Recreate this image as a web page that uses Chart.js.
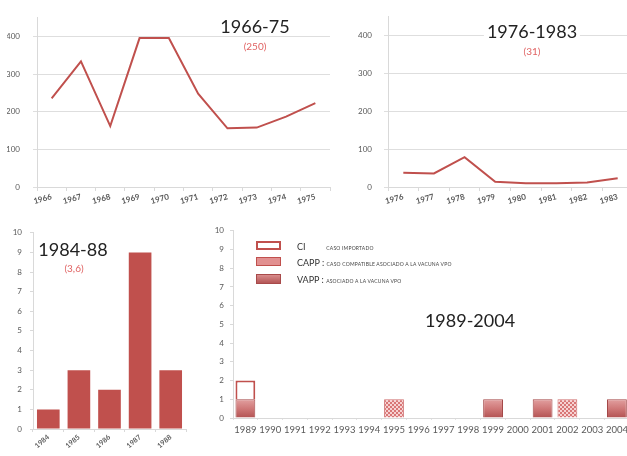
<!DOCTYPE html>
<html><head><meta charset="utf-8">
<script src="https://cdn.jsdelivr.net/npm/chart.js@4/dist/chart.umd.min.js"></script>
<style>
html,body{margin:0;padding:0;background:#fff;width:627px;height:456px;overflow:hidden;position:relative;font-family:Lato,"Open Sans",sans-serif;}
canvas{position:absolute;}
.t{position:absolute;color:#222;font-size:18px;background:#fff;padding:0 3px;line-height:18px;transform:translateX(-50%);white-space:nowrap;}
.s{position:absolute;color:#e06363;font-size:10px;line-height:10px;transform:translateX(-50%);white-space:nowrap;}
.lb{position:absolute;width:25px;height:9px;box-sizing:border-box;}
.lt{position:absolute;font-size:9px;line-height:9px;color:#333;white-space:nowrap;}
.lt small{font-size:5px;letter-spacing:0.2px;color:#444;}
</style></head><body>
<canvas id="c1" width="335" height="220" style="left:0;top:0"></canvas>
<canvas id="c2" width="300" height="220" style="left:335px;top:0"></canvas>
<canvas id="c3" width="195" height="236" style="left:0;top:220px"></canvas>
<canvas id="c4" width="432" height="236" style="left:200px;top:220px"></canvas>

<div class="t" style="left:255px;top:17px">1966-75</div>
<div class="s" style="left:255px;top:41px">(250)</div>
<div class="t" style="left:532px;top:22px">1976-1983</div>
<div class="s" style="left:532px;top:46px">(31)</div>
<div class="t" style="left:73px;top:240px;background:transparent">1984-88</div>
<div class="s" style="left:74px;top:263px">(3,6)</div>
<div class="t" style="left:470px;top:311px;background:transparent">1989-2004</div>

<div class="lb" style="left:256px;top:241px;border:2px solid #c0504d;background:#fff"></div>
<div class="lb" style="left:256px;top:257px;border:1px solid #c0504d;background-color:#f3c4c4;background-image:radial-gradient(#d87474 0.6px,transparent 0.9px);background-size:2px 2px"></div>
<div class="lb" style="left:256px;top:274px;height:10px;border:1px solid #a84a4a;background:linear-gradient(#d88c8c,#b45656)"></div>
<div class="lt" style="left:297px;top:242px">CI&nbsp;&nbsp;&nbsp;&nbsp;&nbsp;&nbsp;&nbsp;&nbsp;&nbsp;<small>CASO IMPORTADO</small></div>
<div class="lt" style="left:297px;top:258px">CAPP : <small>CASO COMPATIBLE ASOCIADO A LA VACUNA VPO</small></div>
<div class="lt" style="left:297px;top:275px">VAPP : <small>ASOCIADO A LA VACUNA VPO</small></div>

<script>
const years1 = ['1966','1967','1968','1969','1970','1971','1972','1973','1974','1975'];
const cases1 = [236,334,162,396,396,248,156,158,187,223];
const years2 = ['1976','1977','1978','1979','1980','1981','1982','1983'];
const cases2 = [38,36,79,14,10,10,12,23];
const years3 = ['1984','1985','1986','1987','1988'];
const cases3 = [1,3,2,9,3];
const years4 = ['1989','1990','1991','1992','1993','1994','1995','1996','1997','1998','1999','2000','2001','2002','2003','2004'];
const vapp4 = [1,null,null,null,null,null,null,null,null,null,1,null,1,null,null,1];
const capp4 = [null,null,null,null,null,null,1,null,null,null,null,null,null,1,null,null];
const ci4   = [1,null,null,null,null,null,null,null,null,null,null,null,null,null,null,null];

const RED = '#c0504d';
const TICK = '#595959';
const FONT = 'Lato';
const base = {responsive:false, animation:false, plugins:{legend:{display:false}, tooltip:{enabled:false}}};

function lineChart(id, labels, data, padLeft, yWidth, padRight, yPad){
  new Chart(document.getElementById(id), {
    type:'line',
    data:{labels, datasets:[{data, borderColor:RED, borderWidth:2, pointRadius:0, tension:0, fill:false}]},
    options:Object.assign({}, base, {
      layout:{padding:{left:padLeft, right:padRight, top:10, bottom:0}},
      scales:{
        x:{offset:true, grid:{display:true, drawOnChartArea:false, tickLength:4, color:'#d9d9d9', offset:true},
           border:{color:'#d9d9d9'},
           ticks:{color:TICK, font:{family:FONT, size:8, weight:'bold'}, minRotation:15, maxRotation:15, padding:1, autoSkip:false},
           afterFit(s){s.height=33;}},
        y:{min:0, max:450, grid:{color:'#dedede', tickLength:4, drawTicks:true}, border:{color:'#d9d9d9'},
           afterBuildTicks(s){s.ticks = s.ticks.filter(t=>t.value<=400);},
           ticks:{stepSize:100, color:TICK, font:{family:FONT, size:8}, padding:yPad},
           afterFit(s){s.width=yWidth;}}
      }
    })
  });
}
lineChart('c1', years1, cases1, 7, 30, 5, 13);
lineChart('c2', years2, cases2, 23, 30, 2, 12);

new Chart(document.getElementById('c3'), {
  type:'bar',
  data:{labels:years3, datasets:[{data:cases3, backgroundColor:RED, borderColor:'#b8423f', borderWidth:0, categoryPercentage:1, barPercentage:0.74}]},
  options:Object.assign({}, base, {
    layout:{padding:{left:8, right:9, top:9, bottom:0}},
    scales:{
      x:{grid:{display:true, drawOnChartArea:false, tickLength:3, color:'#d9d9d9'}, border:{color:'#d9d9d9'},
         ticks:{color:TICK, font:{family:FONT, size:7, weight:'bold'}, minRotation:40, maxRotation:40, padding:1},
         afterFit(s){s.height=27;}},
      y:{min:0, max:10, grid:{display:true, drawOnChartArea:false, tickLength:3, color:'#d9d9d9'}, border:{color:'#d9d9d9'},
         ticks:{stepSize:1, color:TICK, font:{family:FONT, size:8}, padding:8},
         afterFit(s){s.width=25;}}
    }
  })
});

const pc = document.createElement('canvas'); pc.width=4; pc.height=4;
const pctx = pc.getContext('2d');
pctx.fillStyle='#f6d2d2'; pctx.fillRect(0,0,4,4);
pctx.fillStyle='#d87676'; pctx.fillRect(0,0,2,2); pctx.fillRect(2,2,2,2);
const c4 = document.getElementById('c4');
const pattern = c4.getContext('2d').createPattern(pc,'repeat');

function vappFill(ctx){
  const ch = ctx.chart;
  if(!ch.chartArea || !ch.scales.y) return '#c86666';
  const y = ch.scales.y;
  const g = ch.ctx.createLinearGradient(0, y.getPixelForValue(1), 0, y.getPixelForValue(0));
  g.addColorStop(0,'#e2a0a0'); g.addColorStop(0.5,'#cf7878'); g.addColorStop(1,'#b25252');
  return g;
}

new Chart(c4, {
  type:'bar',
  data:{labels:years4, datasets:[
    {label:'VAPP', data:vapp4, backgroundColor:vappFill, borderColor:'#a34646', borderWidth:1, categoryPercentage:1, barPercentage:0.8},
    {label:'CAPP', data:capp4, backgroundColor:pattern, borderColor:'#d07070', borderWidth:1, categoryPercentage:1, barPercentage:0.8},
    {label:'CI', data:ci4, backgroundColor:'#ffffff', borderColor:RED, borderWidth:2, categoryPercentage:1, barPercentage:0.8}
  ]},
  options:Object.assign({}, base, {
    layout:{padding:{left:8, right:2, top:10, bottom:0}},
    scales:{
      x:{stacked:true, grid:{display:true, drawOnChartArea:false, tickLength:2, color:'#e3e3e3'}, border:{color:'#d9d9d9'},
         ticks:{color:TICK, font:{family:FONT, size:9.5}, maxRotation:0, minRotation:0, padding:4, autoSkip:false},
         afterFit(s){s.height=38;}},
      y:{stacked:true, min:0, max:10, grid:{display:true, drawOnChartArea:false, tickLength:3, color:'#d9d9d9'}, border:{color:'#d9d9d9'},
         ticks:{stepSize:1, color:TICK, font:{family:FONT, size:8}, padding:6},
         afterFit(s){s.width=25;}}
    }
  })
});
</script>
</body></html>
